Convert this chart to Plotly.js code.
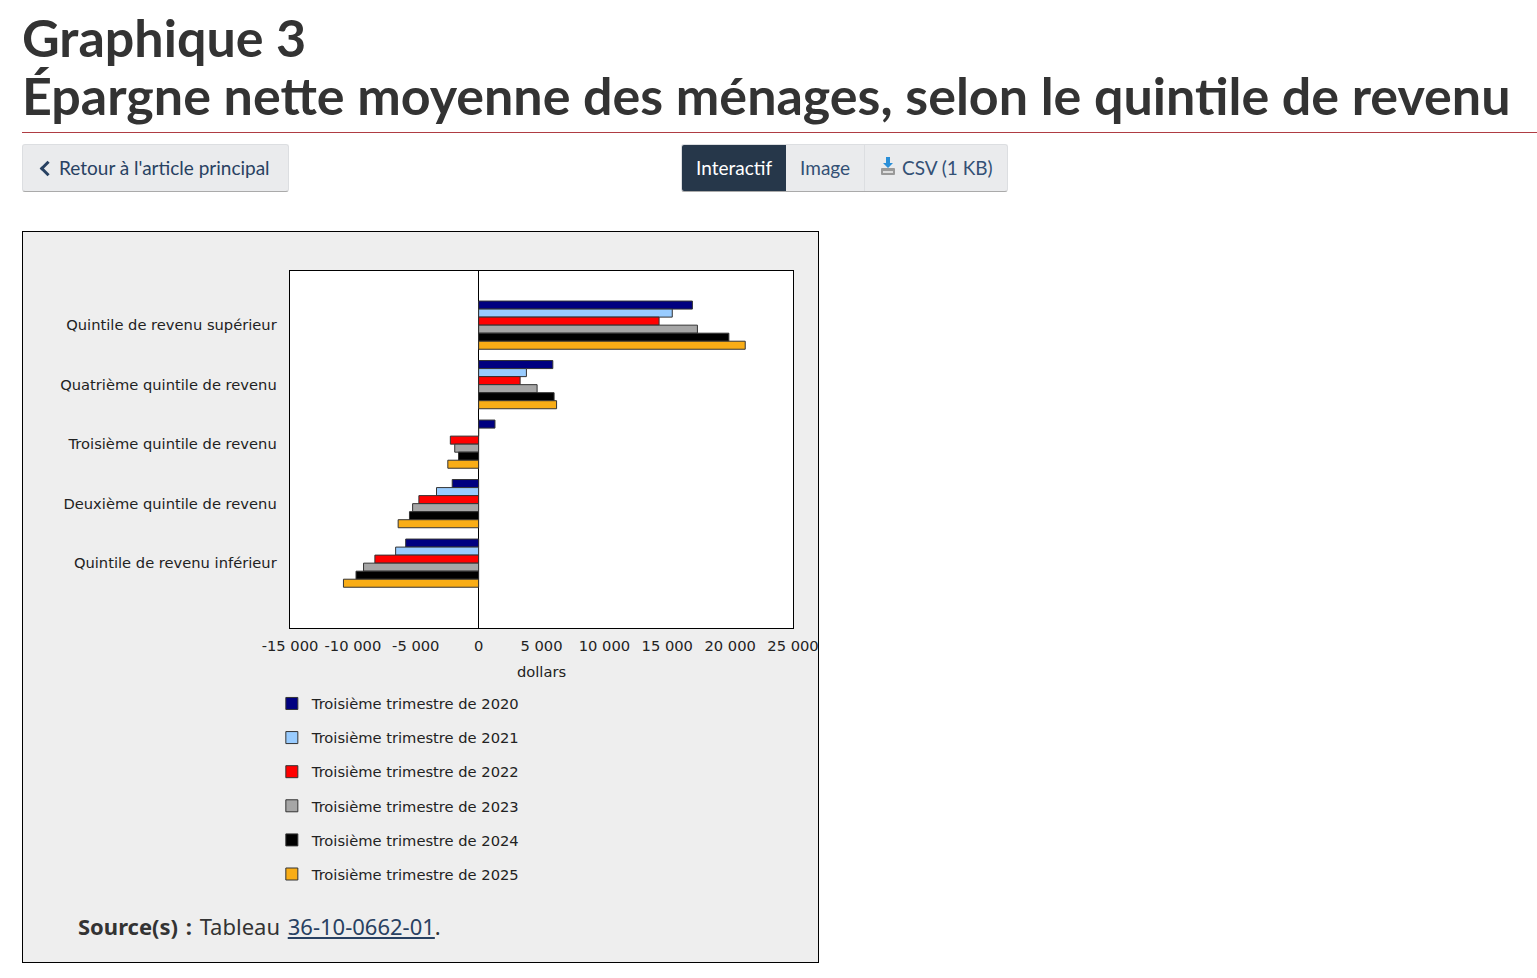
<!DOCTYPE html>
<html lang="fr">
<head>
<meta charset="utf-8">
<script src="https://cdn.plot.ly/plotly-3.0.1.min.js"></script>
<style>
	body { margin: 0; padding: 0 0 0 22px; background: #fff; font-family: Lato, sans-serif; color: #333; }
	h1 { margin: 8px 0 0 0; padding-bottom: 8px; font-size: 52px; line-height: 58px; font-weight: 700; border-bottom: 1px solid #af3c43; }
	.bar { position: relative; height: 50px; margin-top: 11px; }
	.btn { position: absolute; top: 0; height: 48px; box-sizing: border-box; background: #eaebed; border: 1px solid #dcdee1; border-bottom-color: #aaa; border-radius: 3px; color: #284162; font-size: 19px; line-height: 45px; }
	.back { left: 0; width: 267px; padding-left: 36px; }
	.back:before { content: ''; position: absolute; left: 19px; top: 18px; width: 8px; height: 8px; border-left: 3px solid #284162; border-bottom: 3px solid #284162; transform: rotate(45deg); }
	.grp { left: 659px; width: 327px; display: flex; padding: 0; overflow: hidden; color: #335075; }
	.grp span { display: block; height: 100%; padding: 0 14px; }
	.grp .on { background: #26374a; color: #fff; }
	.grp .sep { border-left: 1px solid #dcdee1; }
	#box { position: absolute; left: 22px; top: 231px; width: 795px; height: 730px; background: #eee; border: 1px solid #000; }
	#chart { width: 795px; height: 660px; }
	.src { position: absolute; left: 55px; top: 679px; font-family: 'Noto Sans', sans-serif; font-size: 22px; color: #333; word-spacing: 2px; }
	.src a { color: #284162; }
</style>
</head>
<body>
<h1>Graphique 3<br>Épargne nette moyenne des ménages, selon le quintile de revenu</h1>
<div class="bar">
	<div class="btn back">Retour à l'article principal</div>
	<div class="btn grp">
		<span class="on">Interactif</span>
		<span>Image</span>
		<span class="sep"><svg width="18" height="20" viewBox="0 0 18 20" style="vertical-align:-1px"><path d="M7 1h4v6h3l-5 5-5-5h3z" fill="#2a8fd8"/><rect x="2" y="12" width="14" height="7" rx="1" fill="#999"/><rect x="4" y="15" width="10" height="2" fill="#ddd"/></svg> CSV (1 KB)</span>
	</div>
</div>
<div id="box">
	<div id="chart"></div>
	<div class="src"><b>Source(s)&nbsp;:</b> Tableau <a href="#">36-10-0662-01</a>.</div>
</div>
<script>
const quintiles = ['Quintile de revenu supérieur', 'Quatrième quintile de revenu', 'Troisième quintile de revenu', 'Deuxième quintile de revenu', 'Quintile de revenu inférieur']
const periods = ['Troisième trimestre de 2020', 'Troisième trimestre de 2021', 'Troisième trimestre de 2022', 'Troisième trimestre de 2023', 'Troisième trimestre de 2024', 'Troisième trimestre de 2025']
const colours = ['#000080', '#99ccff', '#ff0000', '#a6a6a6', '#000000', '#f9ad16']

// net savings in dollars, one array per period, in quintile order
const q3_2020 = [17000, 5900, 1300, -2100, -5800]
const q3_2021 = [15400, 3800, 0, -3350, -6600]
const q3_2022 = [14350, 3300, -2250, -4750, -8250]
const q3_2023 = [17400, 4650, -1900, -5250, -9150]
const q3_2024 = [19900, 6000, -1600, -5500, -9750]
const q3_2025 = [21200, 6200, -2450, -6400, -10750]
const series = [q3_2020, q3_2021, q3_2022, q3_2023, q3_2024, q3_2025]

const tick_values = [-15000, -10000, -5000, 0, 5000, 10000, 15000, 20000, 25000]
const tick_labels = ['-15 000', '-10 000', '-5 000', '0', '5 000', '10 000', '15 000', '20 000', '25 000']

let traces = series.map((values, i) => ({
	type: 'bar',
	orientation: 'h',
	y: quintiles,
	x: values,
	name: periods[i],
	legendgroup: 'g' + i,
	marker: { color: colours[i], line: { color: '#333', width: 1 } },
}))

Plotly.newPlot('chart', traces, {
	width: 795,
	height: 660,
	paper_bgcolor: '#eeeeee',
	plot_bgcolor: '#ffffff',
	margin: { l: 267, r: 25, t: 39, b: 264, autoexpand: false },
	font: { family: "'DejaVu Sans', Verdana, sans-serif", size: 14.7, color: '#222' },
	barmode: 'group',
	bargap: 0.19,
	bargroupgap: 0,
	showlegend: true,
	legend: {
		orientation: 'v',
		xref: 'container',
		yref: 'container',
		x: 0.313,
		xanchor: 'left',
		y: 0.31,
		yanchor: 'top',
		traceorder: 'grouped',
		tracegroupgap: 12,
		font: { size: 14.7, color: '#222' },
		bgcolor: 'rgba(0,0,0,0)',
	},
	xaxis: {
		range: [-15000, 25000],
		tickvals: tick_values,
		ticktext: tick_labels,
		ticklabeloverflow: 'allow',
		showgrid: false,
		zeroline: true,
		zerolinecolor: '#000',
		zerolinewidth: 1,
		showline: true,
		linecolor: '#000',
		linewidth: 1,
		mirror: true,
		ticks: '',
		ticklabelstandoff: 4,
		title: { text: 'dollars', standoff: 14, font: { size: 14.7 } },
	},
	yaxis: {
		type: 'category',
		range: [4.5 + 0.59, -0.5 - 0.41],
		showgrid: false,
		showline: true,
		linecolor: '#000',
		linewidth: 1,
		mirror: true,
		ticks: '',
		ticksuffix: '  ',
	},
}, { displayModeBar: false, staticPlot: true })
</script>
</body>
</html>
